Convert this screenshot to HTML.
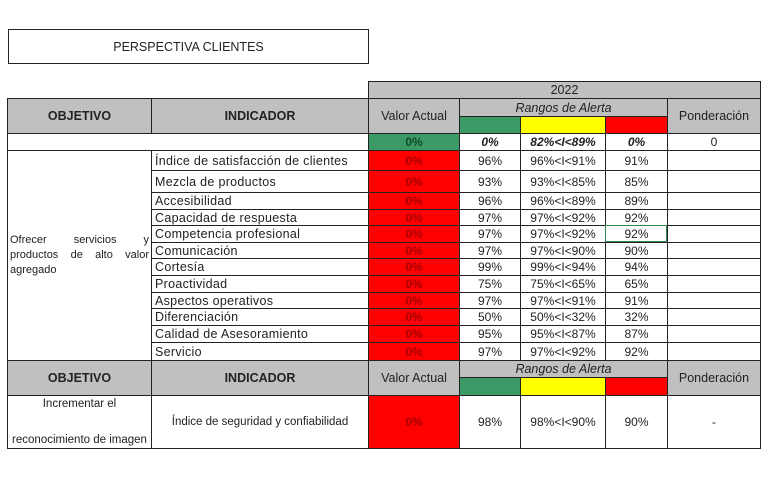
<!DOCTYPE html>
<html><head><meta charset="utf-8"><style>
body{margin:0;width:768px;height:480px;background:#fff;position:relative;overflow:hidden;font-family:"Liberation Sans",Arial,sans-serif;}
.c{position:absolute;box-sizing:border-box;border:1px solid #222;display:flex;align-items:center;justify-content:center;font-size:12px;color:#222;}
.g{background:#c0c0c0;font-weight:bold;font-size:12.5px;}
.l{justify-content:flex-start;padding-left:3px;}
.r{background:#ff0000;color:#a80000;font-weight:bold;}
.gr{background:#3b9a66;}
.y{background:#ffff00;}
</style></head><body>
<div class="c" style="left:8px;top:29px;width:361px;height:35px;font-size:12.5px;border-width:1.5px">PERSPECTIVA CLIENTES</div>

<div class="c g" style="left:368px;top:81px;width:393px;height:18px;font-weight:normal">2022</div>
<div class="c g" style="left:7px;top:98px;width:145px;height:36px">OBJETIVO</div>
<div class="c g" style="left:151px;top:98px;width:218px;height:36px">INDICADOR</div>
<div class="c g" style="left:368px;top:98px;width:92px;height:36px;font-weight:normal">Valor Actual</div>
<div class="c g" style="left:459px;top:98px;width:209px;height:19px;font-weight:normal;font-style:italic">Rangos de Alerta</div>
<div class="c gr" style="left:459px;top:116px;width:62px;height:18px"></div>
<div class="c y" style="left:520px;top:116px;width:86px;height:18px"></div>
<div class="c r" style="left:605px;top:116px;width:63px;height:18px"></div>
<div class="c g" style="left:667px;top:98px;width:94px;height:36px;font-weight:normal">Ponderación</div>

<div class="c" style="left:7px;top:133px;width:362px;height:18px"></div>
<div class="c gr" style="left:368px;top:133px;width:92px;height:18px;font-weight:bold;color:#0f4a24">0%</div>
<div class="c" style="left:459px;top:133px;width:62px;height:18px;font-weight:bold;font-style:italic">0%</div>
<div class="c" style="left:520px;top:133px;width:86px;height:18px;font-weight:bold;font-style:italic">82%&lt;I&lt;89%</div>
<div class="c" style="left:605px;top:133px;width:63px;height:18px;font-weight:bold;font-style:italic">0%</div>
<div class="c" style="left:667px;top:133px;width:94px;height:18px">0</div>

<div class="c" style="left:7px;top:150px;width:145px;height:211px;font-size:11px;text-align:justify;justify-content:flex-start;padding:0 2px;line-height:15px">Ofrecer servicios y productos de alto valor agregado</div>

<div id="rows"></div>
<script>
var rows=[["Índice de satisfacción de clientes",150,170,"96%","96%<I<91%","91%"],
["Mezcla de productos",170,192,"93%","93%<I<85%","85%"],
["Accesibilidad",192,209,"96%","96%<I<89%","89%"],
["Capacidad de respuesta",209,225,"97%","97%<I<92%","92%"],
["Competencia profesional",225,242,"97%","97%<I<92%","92%"],
["Comunicación",242,258,"97%","97%<I<90%","90%"],
["Cortesía",258,275,"99%","99%<I<94%","94%"],
["Proactividad",275,292,"75%","75%<I<65%","65%"],
["Aspectos operativos",292,308,"97%","97%<I<91%","91%"],
["Diferenciación",308,325,"50%","50%<I<32%","32%"],
["Calidad de Asesoramiento",325,342,"95%","95%<I<87%","87%"],
["Servicio",342,361,"97%","97%<I<92%","92%"]];
var h="";
function e(s){return s.replace(/</g,"&lt;")}
rows.forEach(function(r){var t=r[1],ht=r[2]-r[1]+1;
h+='<div class="c l" style="left:151px;top:'+t+'px;width:218px;height:'+ht+'px;font-size:12.5px;letter-spacing:0.3px">'+r[0]+'</div>';
h+='<div class="c r" style="left:368px;top:'+t+'px;width:92px;height:'+ht+'px">0%</div>';
h+='<div class="c" style="left:459px;top:'+t+'px;width:62px;height:'+ht+'px">'+r[3]+'</div>';
h+='<div class="c" style="left:520px;top:'+t+'px;width:86px;height:'+ht+'px">'+e(r[4])+'</div>';
h+='<div class="c" style="left:605px;top:'+t+'px;width:63px;height:'+ht+'px">'+r[5]+'</div>';
h+='<div class="c" style="left:667px;top:'+t+'px;width:94px;height:'+ht+'px"></div>';});
document.getElementById("rows").outerHTML=h;
</script>
<div style="position:absolute;left:605px;top:225px;width:62px;height:17px;box-sizing:border-box;border:1.5px solid #2e8b57"></div>

<div class="c g" style="left:7px;top:360px;width:145px;height:36px">OBJETIVO</div>
<div class="c g" style="left:151px;top:360px;width:218px;height:36px">INDICADOR</div>
<div class="c g" style="left:368px;top:360px;width:92px;height:36px;font-weight:normal">Valor Actual</div>
<div class="c g" style="left:459px;top:360px;width:209px;height:18px;font-weight:normal;font-style:italic">Rangos de Alerta</div>
<div class="c gr" style="left:459px;top:377px;width:62px;height:19px"></div>
<div class="c y" style="left:520px;top:377px;width:86px;height:19px"></div>
<div class="c r" style="left:605px;top:377px;width:63px;height:19px"></div>
<div class="c g" style="left:667px;top:360px;width:94px;height:36px;font-weight:normal">Ponderación</div>

<div class="c" style="left:7px;top:395px;width:145px;height:54px;flex-direction:column;justify-content:space-between;padding:2px 0;font-size:11.5px"><span>Incrementar el</span><span>reconocimiento de imagen</span></div>
<div class="c" style="left:151px;top:395px;width:218px;height:54px;font-size:11.5px">Índice de seguridad y confiabilidad</div>
<div class="c r" style="left:368px;top:395px;width:92px;height:54px">0%</div>
<div class="c" style="left:459px;top:395px;width:62px;height:54px">98%</div>
<div class="c" style="left:520px;top:395px;width:86px;height:54px">98%&lt;I&lt;90%</div>
<div class="c" style="left:605px;top:395px;width:63px;height:54px">90%</div>
<div class="c" style="left:667px;top:395px;width:94px;height:54px">-</div>
</body></html>
